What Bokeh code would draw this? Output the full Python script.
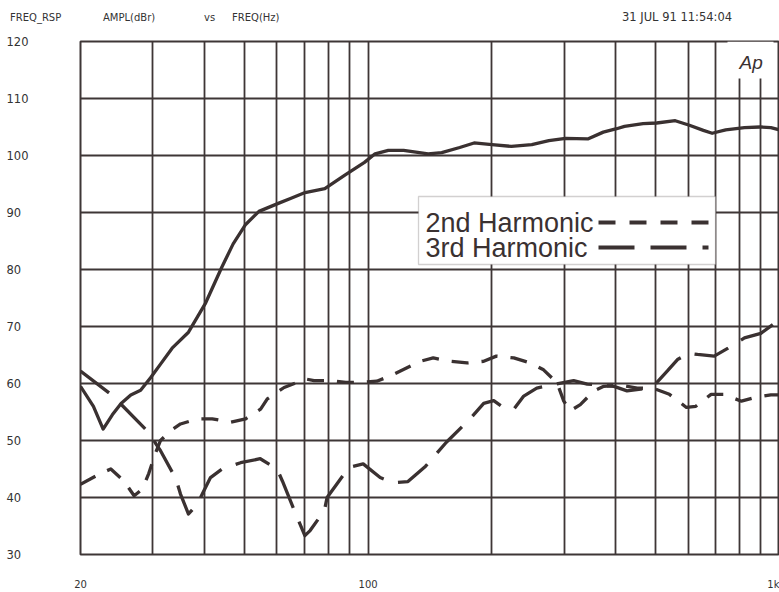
from bokeh.plotting import figure
from bokeh.models import Range1d, FixedTicker, Label, BoxAnnotation, Div
from bokeh.layouts import column
from bokeh.embed import file_html
from bokeh.resources import INLINE

# ---------------- data ----------------
FREQ_FUND = [20, 21.5, 22.7, 23.9, 25.1, 26.5, 28.0, 29.6, 31.3, 33.4, 36.6, 40.2, 44.1, 47.0,
             50.4, 54.3, 60.5, 65.0, 70.3, 78.5, 88.0, 98.0, 104, 112, 122, 140, 151, 167, 181,
             200, 223, 250, 275, 302, 342, 373, 402, 420, 466, 503, 558, 604, 653, 686, 740,
             822, 897, 953, 1000]
AMPL_FUND = [59.5, 56.0, 52.0, 54.5, 56.5, 58.0, 58.8, 61.0, 63.4, 66.2, 69.0, 74.0, 80.4, 84.5,
             87.9, 90.2, 91.6, 92.5, 93.5, 94.2, 96.6, 98.8, 100.3, 100.9, 100.9, 100.3, 100.5,
             101.4, 102.2, 101.9, 101.6, 101.9, 102.6, 103.0, 102.9, 104.1, 104.7, 105.1, 105.6,
             105.7, 106.1, 105.3, 104.4, 103.9, 104.5, 104.9, 105.0, 104.9, 104.5]

FREQ_H2 = [20, 22.2, 23.7, 25.5, 27.0, 28.3, 29.3, 30.4, 31.3, 33.1, 35.0, 38.5, 41.8, 46.3,
           50.4, 54.8, 56.9, 62.5, 67.3, 70.5, 73.9, 81.2, 88.3, 96.0, 105, 113, 124, 134, 144,
           158, 174, 191, 205, 226, 248, 267, 288, 299, 310, 328, 354, 374, 411, 451, 496, 540,
           594, 626, 682, 732, 808, 866, 953, 1000]
AMPL_H2 = [42.3, 44.1, 45.0, 42.9, 40.3, 41.5, 44.2, 47.7, 50.0, 51.7, 52.9, 53.8, 53.8, 53.2,
           53.8, 55.5, 57.3, 59.3, 60.2, 60.8, 60.5, 60.5, 60.2, 60.2, 60.4, 61.3, 62.7, 63.9,
           64.5, 63.9, 63.6, 63.9, 64.8, 64.5, 63.6, 62.4, 60.1, 56.9, 55.2, 56.3, 58.7, 59.5,
           59.7, 59.2, 59.1, 58.1, 55.8, 56.0, 58.1, 58.1, 56.9, 57.5, 58.0, 58.0]

FREQ_H3 = [20, 23.9, 25.3, 29.6, 30.5, 31.3, 34.1, 35.0, 36.6, 38.5, 39.9, 41.4, 44.2, 49.0,
           54.7, 60.1, 61.9, 67.0, 70.2, 72.3, 78.3, 79.5, 89.9, 97.3, 107, 115, 125, 138, 155,
           178, 191, 202, 213, 226, 239, 257, 285, 316, 341, 368, 396, 426, 460, 496, 534, 565,
           603, 632, 694, 750, 822, 901, 1000]
AMPL_H3 = [62.2, 57.9, 56.1, 51.1, 49.4, 48.2, 43.3, 40.6, 37.1, 38.9, 41.2, 43.5, 45.0, 46.1,
           46.8, 45.0, 42.9, 36.8, 33.3, 34.2, 37.7, 40.0, 45.3, 45.9, 43.5, 42.6, 42.8, 45.5,
           49.7, 54.0, 56.5, 57.0, 55.8, 55.5, 57.8, 59.2, 59.9, 60.5, 59.9, 59.7, 59.5, 58.7,
           59.0, 59.7, 62.2, 64.2, 65.3, 65.1, 64.8, 66.2, 68.0, 68.8, 71.2]

Y_TICKS = [30, 40, 50, 60, 70, 80, 90, 100, 110, 120]
X_GRID = [20, 30, 40, 50, 60, 70, 80, 90, 100, 200, 300, 400, 500, 600, 700, 800, 900, 1000]
X_LABEL_TICKS = [20, 100, 1000]
X_LABELS = ["20", "100", "1k"]
LEGEND_LABELS = ["2nd Harmonic", "3rd Harmonic"]
HEADER_TEXTS = ["FREQ_RSP", "AMPL(dBr)", "vs", "FREQ(Hz)"]
DATE_TEXT = "31 JUL 91 11:54:04"
LOGO_TEXT = "Ap"

# ---------------- layout ----------------
X0, X1 = 20, 1000
Y0, Y1 = 30, 120
W = 779
HDR_H = 30
H = 592 - HDR_H
BL, BR, BT, BB = 80, 0, 11, 38
FW = W - BL - BR
FH = H - BT - BB
FL = BL            # page x of frame left
FT = HDR_H + BT    # page y of frame top

INK = "#3a3131"
GRID = "#3e3636"
TXT = "#333333"
FONT = "DejaVu Sans"
FSP = "\u2007"  # figure space (digit width)


def px_x(px):
    return X0 * (X1 / X0) ** ((px - FL) / FW)


def px_y(py):
    return Y1 - (py - FT) / FH * (Y1 - Y0)


# ---------------- header (HTML text above the plot) ----------------
widths = [93, 101, 28, 390]
spans = "".join(
    f'<span style="display:inline-block;width:{w}px">{t}</span>'
    for t, w in zip(HEADER_TEXTS, widths))
spans += f'<span style="display:inline-block;font-size:11.5px">{DATE_TEXT}</span>'
header = Div(text=f'<div style="padding:11px 0 0 10px;font-family:\'{FONT}\';font-size:10px;'
                  f'line-height:12px;color:{TXT};white-space:nowrap">{spans}</div>',
             width=W, height=HDR_H, margin=(0, 0, 0, 0))

# ---------------- figure ----------------
p = figure(width=W, height=H, x_axis_type="log",
           x_range=Range1d(X0, X1), y_range=Range1d(Y0, Y1),
           output_backend="svg", toolbar_location=None,
           min_border_left=BL, min_border_right=BR,
           min_border_top=BT, min_border_bottom=BB, margin=(0, 0, 0, 0))
p.background_fill_color = "white"
p.border_fill_color = "white"
p.outline_line_color = GRID
p.outline_line_width = 2

# x axis: only the three labels
xa = p.xaxis[0]
xa.ticker = FixedTicker(ticks=X_LABEL_TICKS)
xa.major_label_overrides = {f: l for f, l in zip(X_LABEL_TICKS, X_LABELS)}
xa.axis_line_color = None
xa.major_tick_line_color = None
xa.minor_tick_line_color = None
xa.major_label_standoff = 18
xa.major_label_text_font = FONT
xa.major_label_text_font_size = "10px"
xa.major_label_text_color = TXT

# y axis: labels only, visually left-aligned (pad with figure spaces)
ya = p.yaxis[0]
ya.ticker = FixedTicker(ticks=Y_TICKS)
ya.major_label_overrides = {v: str(v) + FSP * (3 - len(str(v))) for v in Y_TICKS}
ya.axis_line_color = None
ya.major_tick_line_color = None
ya.minor_tick_line_color = None
ya.major_label_standoff = 46
ya.major_label_text_font = FONT
ya.major_label_text_font_size = "11.5px"
ya.major_label_text_color = TXT

p.xgrid.ticker = FixedTicker(ticks=X_GRID)
p.ygrid.ticker = FixedTicker(ticks=Y_TICKS)
for g in (p.xgrid, p.ygrid):
    g.grid_line_color = GRID
    g.grid_line_width = 1.8
    g.grid_line_alpha = 1.0

# white patches behind legend and logo (above grid, below curves)
p.add_layout(BoxAnnotation(left=px_x(727), right=px_x(773), top=Y1, bottom=px_y(78),
                           fill_color="white", fill_alpha=1.0, line_color=None,
                           level="underlay"))
p.add_layout(BoxAnnotation(left=px_x(418), right=px_x(715), top=px_y(196), bottom=px_y(264),
                           fill_color="white", fill_alpha=1.0, line_color="#6a6262",
                           line_width=1.3, level="underlay"))

# curves
p.line(FREQ_FUND, AMPL_FUND, line_color=INK, line_width=3.3, line_join="round")
p.line(FREQ_H2, AMPL_H2, line_color=INK, line_width=3.3, line_dash="17 13", line_join="round")
p.line(FREQ_H3, AMPL_H3, line_color=INK, line_width=3.3, line_dash="36 15", line_join="round")

# legend
dashes = ["17 14", "36 16"]
rows_px = [222, 247]
for lbl, dash, ry in zip(LEGEND_LABELS, dashes, rows_px):
    p.add_layout(Label(x=px_x(425), y=px_y(ry), text=lbl, text_font="Liberation Sans",
                       text_font_size="27px", text_color=INK, text_baseline="middle",
                       text_align="left"))
    p.line([px_x(598), px_x(708)], [px_y(ry), px_y(ry)], line_color=INK, line_width=4,
           line_dash=dash)

# logo
p.add_layout(Label(x=px_x(739), y=px_y(62), text=LOGO_TEXT, text_font="Liberation Sans",
                   text_font_style="italic", text_font_size="19px", text_color=INK,
                   text_baseline="middle", text_align="left"))

layout = column(header, p, spacing=0, margin=(0, 0, 0, 0))
open("out.html", "w").write(file_html(layout, INLINE))
